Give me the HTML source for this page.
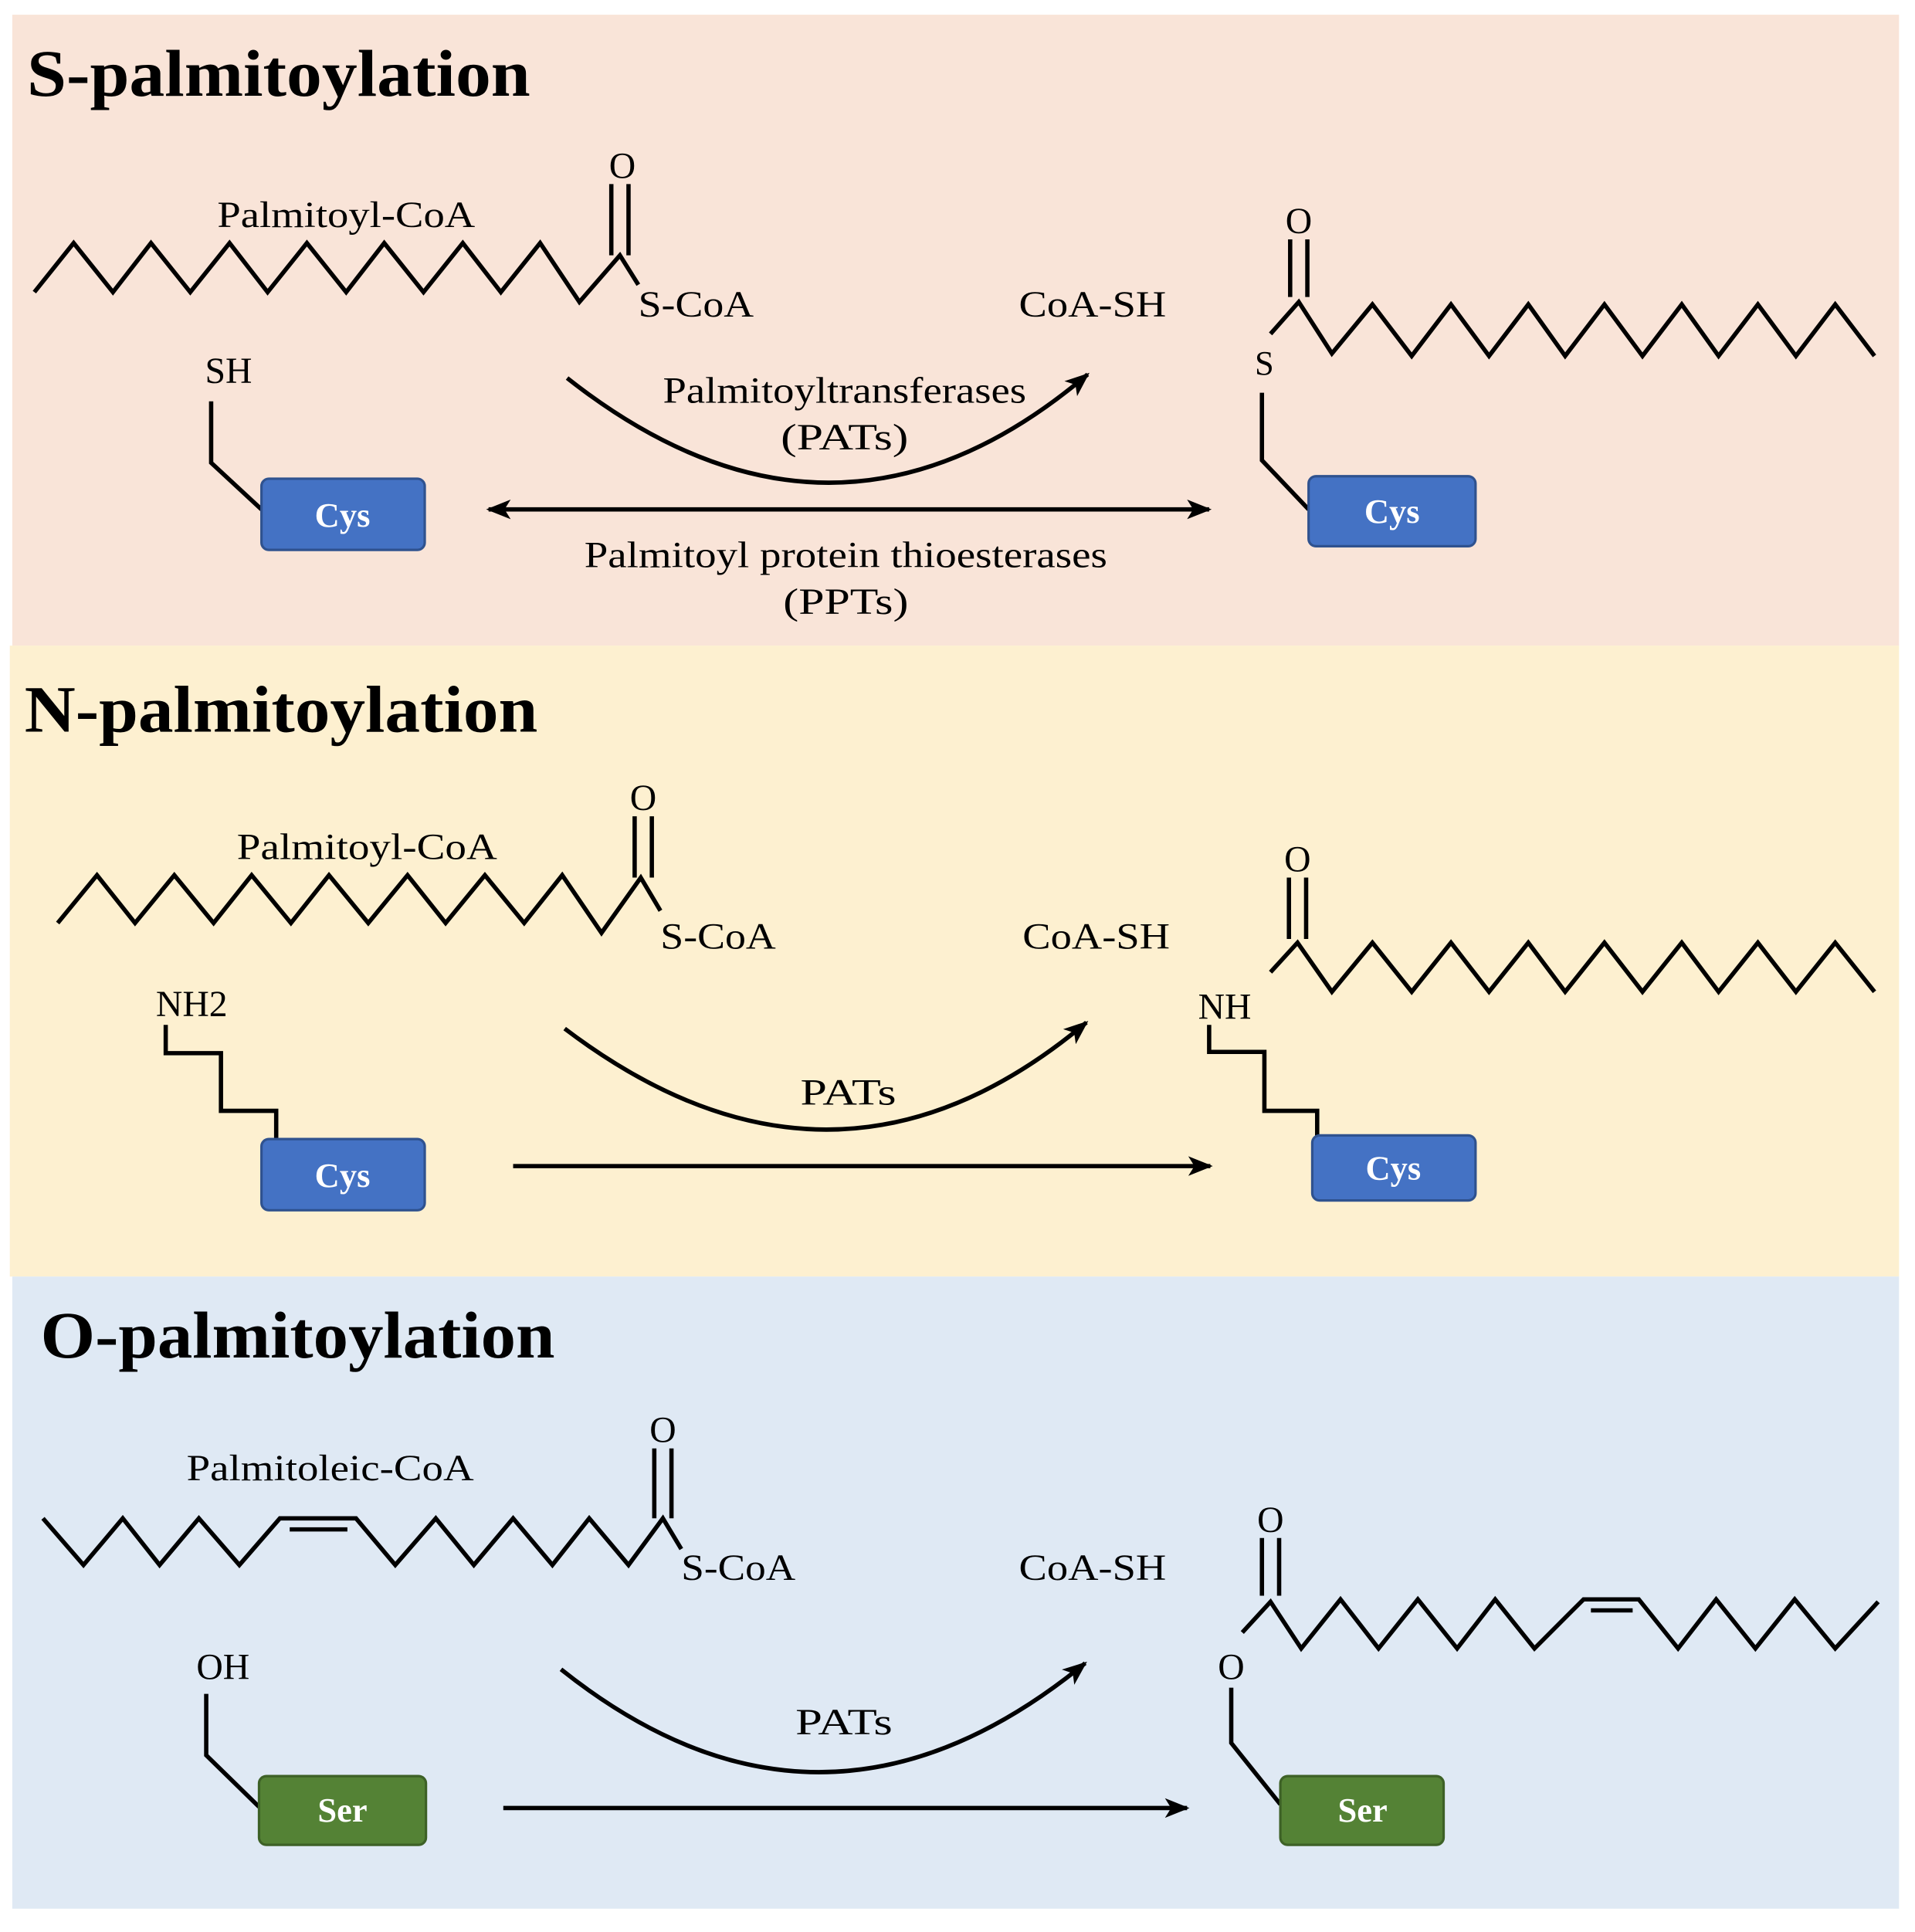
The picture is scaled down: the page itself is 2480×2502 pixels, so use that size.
<!DOCTYPE html>
<html><head><meta charset="utf-8"><style>html,body{margin:0;padding:0;background:#fff}svg{display:block}</style></head>
<body>
<svg width="2480" height="2502" viewBox="0 0 1560 1574" preserveAspectRatio="none" xmlns="http://www.w3.org/2000/svg" font-family="Liberation Serif, serif">
<defs>
<marker id="ah2" markerWidth="20" markerHeight="16" refX="18" refY="8" orient="auto" markerUnits="userSpaceOnUse"><path d="M0,0 L20,8 L0,16 L5,8 Z" fill="#000"/></marker>
<marker id="ahs" markerWidth="20" markerHeight="16" refX="2" refY="8" orient="auto" markerUnits="userSpaceOnUse"><path d="M20,0 L0,8 L20,16 L15,8 Z" fill="#000"/></marker>
</defs>
<rect x="10" y="12" width="1537" height="514" fill="#f9e4d8"/>
<rect x="8" y="526" width="1539" height="514" fill="#fdf0d0"/>
<rect x="10" y="1040" width="1537" height="515" fill="#dfe9f4"/>

<g fill="none" stroke="#000" stroke-width="3.5" stroke-linejoin="miter">
<polyline points="28,238 60,198 92,238 123,198 155,238 187,198 218,238 250,198 282,238 313,198 345,238 377,198 408,238 440,198 472,246 505,208 520,232"/>
<line x1="498" y1="208" x2="498" y2="150"/><line x1="512" y1="208" x2="512" y2="150"/>
<polyline points="1035,272 1058,246 1085,288 1118,248 1150,290 1182,248 1213,290 1245,248 1275,290 1307,248 1338,290 1370,248 1400,290 1432,248 1463,290 1495,248 1527,290"/>
<line x1="1051" y1="242" x2="1051" y2="195"/><line x1="1065" y1="242" x2="1065" y2="195"/>
<polyline points="1028,320 1028,375 1066,415"/>
<polyline points="172,327 172,377 213,415"/>
<path d="M462,308 Q680,480 886,305" marker-end="url(#ah2)"/>
<line x1="398" y1="415" x2="985" y2="415" marker-end="url(#ah2)" marker-start="url(#ahs)"/>
<polyline points="47,752 79,713 110,752 142,713 174,752 205,713 237,752 268,713 300,752 332,713 363,752 395,713 427,752 458,713 490,760 522,715 538,742"/>
<line x1="517" y1="715" x2="517" y2="665"/><line x1="531" y1="715" x2="531" y2="665"/>
<polyline points="1035,792 1057,768 1085,808 1118,768 1150,808 1182,768 1213,808 1245,768 1275,808 1307,768 1338,808 1370,768 1400,808 1432,768 1463,808 1495,768 1527,808"/>
<line x1="1050" y1="765" x2="1050" y2="715"/><line x1="1064" y1="765" x2="1064" y2="715"/>
<polyline points="985,835 985,857 1030,857 1030,905 1073,905 1073,928"/>
<polyline points="135,835 135,858 180,858 180,905 225,905 225,930"/>
<path d="M460,838 Q680,1005 885,833" marker-end="url(#ah2)"/>
<line x1="418" y1="950" x2="986" y2="950" marker-end="url(#ah2)"/>
<polyline points="35,1237 68,1275 100,1237 130,1275 162,1237 195,1275 228,1237 290,1237 322,1275 355,1237 386,1275 418,1237 450,1275 480,1237 512,1275 540,1237 555,1262"/>
<line x1="236" y1="1246" x2="283" y2="1246"/>
<line x1="533" y1="1237" x2="533" y2="1180"/><line x1="547" y1="1237" x2="547" y2="1180"/>
<polyline points="1012,1330 1035,1305 1060,1343 1092,1303 1123,1343 1155,1303 1187,1343 1218,1303 1250,1343 1290,1303 1335,1303 1367,1343 1398,1303 1430,1343 1462,1303 1495,1343 1530,1305"/>
<line x1="1296" y1="1312" x2="1330" y2="1312"/>
<line x1="1028" y1="1300" x2="1028" y2="1253"/><line x1="1042" y1="1300" x2="1042" y2="1253"/>
<polyline points="1003,1375 1003,1420 1043,1470"/>
<polyline points="168,1380 168,1430 211,1472"/>
<path d="M457,1360 Q670,1530 884,1355" marker-end="url(#ah2)"/>
<line x1="410" y1="1473" x2="967" y2="1473" marker-end="url(#ah2)"/>
</g>

<g stroke-width="2">
<rect x="213" y="390" width="133" height="58" rx="6" fill="#4472c4" stroke="#2f528f"/>
<rect x="1066" y="388" width="136" height="57" rx="6" fill="#4472c4" stroke="#2f528f"/>
<rect x="213" y="928" width="133" height="58" rx="6" fill="#4472c4" stroke="#2f528f"/>
<rect x="1069" y="925" width="133" height="53" rx="6" fill="#4472c4" stroke="#2f528f"/>
<rect x="211" y="1447" width="136" height="56" rx="6" fill="#548235" stroke="#3d6126"/>
<rect x="1043" y="1447" width="133" height="56" rx="6" fill="#548235" stroke="#3d6126"/>
</g>
<g fill="#fff" font-weight="bold" font-size="28" text-anchor="middle">
<text x="279" y="429">Cys</text><text x="1134" y="426">Cys</text>
<text x="279" y="967">Cys</text><text x="1135" y="961">Cys</text>
<text x="279" y="1484">Ser</text><text x="1110" y="1484">Ser</text>
</g>

<g font-weight="bold" font-size="54" fill="#000" lengthAdjust="spacingAndGlyphs">
<text x="22" y="78" textLength="410" lengthAdjust="spacingAndGlyphs">S-palmitoylation</text>
<text x="20" y="596" textLength="418" lengthAdjust="spacingAndGlyphs">N-palmitoylation</text>
<text x="33" y="1106" textLength="419" lengthAdjust="spacingAndGlyphs">O-palmitoylation</text>
</g>

<g font-size="30" fill="#000">
<text x="507" y="145" text-anchor="middle">O</text>
<text x="177" y="185" textLength="210" lengthAdjust="spacingAndGlyphs">Palmitoyl-CoA</text>
<text x="520" y="258" textLength="94" lengthAdjust="spacingAndGlyphs">S-CoA</text>
<text x="830" y="258" textLength="120" lengthAdjust="spacingAndGlyphs">CoA-SH</text>
<text x="1058" y="190" text-anchor="middle">O</text>
<text x="1030" y="305" text-anchor="middle" font-size="28">S</text>
<text x="167" y="312">SH</text>
<text x="540" y="328" textLength="296" lengthAdjust="spacingAndGlyphs">Palmitoyltransferases</text>
<text x="636" y="366" textLength="104" lengthAdjust="spacingAndGlyphs">(PATs)</text>
<text x="476" y="462" textLength="426" lengthAdjust="spacingAndGlyphs">Palmitoyl protein thioesterases</text>
<text x="638" y="500" textLength="102" lengthAdjust="spacingAndGlyphs">(PPTs)</text>

<text x="524" y="660" text-anchor="middle">O</text>
<text x="193" y="700" textLength="212" lengthAdjust="spacingAndGlyphs">Palmitoyl-CoA</text>
<text x="538" y="773" textLength="94" lengthAdjust="spacingAndGlyphs">S-CoA</text>
<text x="833" y="773" textLength="120" lengthAdjust="spacingAndGlyphs">CoA-SH</text>
<text x="1057" y="710" text-anchor="middle">O</text>
<text x="976" y="830">NH</text>
<text x="127" y="828">NH2</text>
<text x="652" y="900" textLength="78" lengthAdjust="spacingAndGlyphs">PATs</text>

<text x="540" y="1175" text-anchor="middle">O</text>
<text x="152" y="1206" textLength="234" lengthAdjust="spacingAndGlyphs">Palmitoleic-CoA</text>
<text x="555" y="1287" textLength="93" lengthAdjust="spacingAndGlyphs">S-CoA</text>
<text x="830" y="1287" textLength="120" lengthAdjust="spacingAndGlyphs">CoA-SH</text>
<text x="1035" y="1248" text-anchor="middle">O</text>
<text x="1003" y="1368" text-anchor="middle">O</text>
<text x="160" y="1368">OH</text>
<text x="648" y="1413" textLength="79" lengthAdjust="spacingAndGlyphs">PATs</text>
</g>
</svg>
</body></html>
